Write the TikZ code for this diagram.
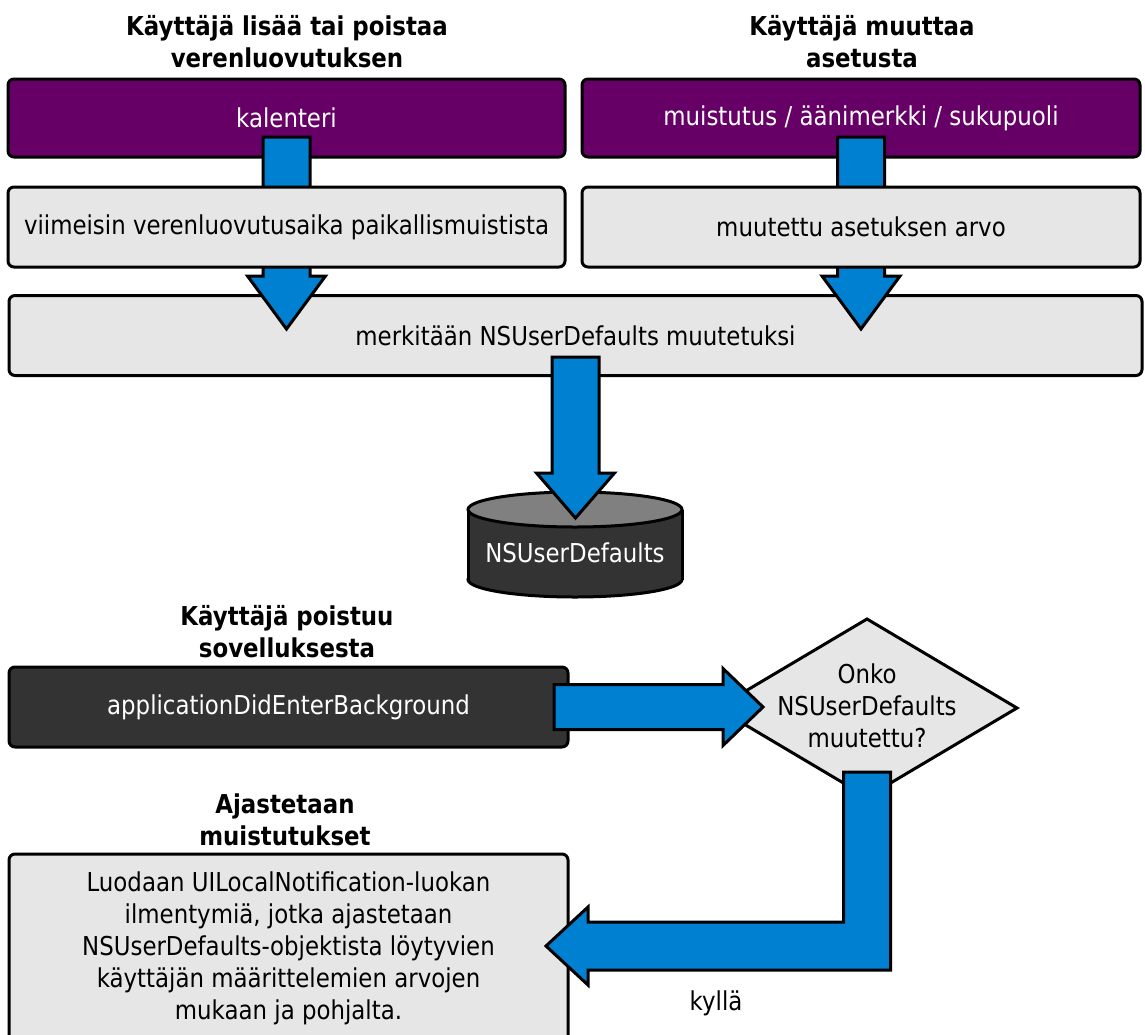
\documentclass[tikz,border=0pt]{standalone}
\usepackage{fontspec}
\setmainfont{DejaVu Sans}[FakeStretch=0.88]
\usetikzlibrary{shapes.geometric,calc}

\definecolor{plum}{HTML}{660066}
\definecolor{boxgray}{HTML}{E6E6E6}
\definecolor{charcoal}{HTML}{333333}
\definecolor{lidgray}{HTML}{808080}
\definecolor{flowblue}{HTML}{0080D0}

\tikzset{
  txt/.style={font=\fontsize{26}{32}\selectfont, align=center},
  heading/.style={font=\bfseries\fontsize{26}{32}\selectfont, align=center},
  roundbox/.style={rectangle, rounded corners=6pt, draw=black, line width=3pt,
    inner sep=0pt, outer sep=0pt, txt},
  purplebox/.style={roundbox, fill=plum, text=white},
  graybox/.style={roundbox, fill=boxgray},
  darkbox/.style={roundbox, fill=charcoal, text=white},
  decision/.style={diamond, draw=black, line width=3pt, fill=boxgray,
    inner sep=0pt, outer sep=0pt},
  blockarrow/.style={fill=flowblue, draw=black, line width=3pt, line join=miter},
  cylline/.style={draw=black, line width=3pt},
}

% block arrow pointing down: shaft top #1, tip #2, head length #3
\newcommand\blockdown[3]{%
  \draw[blockarrow] let \p1=(#1), \p2=(#2) in
    (\x1-23.5pt,\y1) -- (\x1+23.5pt,\y1) -- (\x1+23.5pt,\y2+#3) -- (\x1+39pt,\y2+#3)
    -- (\x1,\y2) -- (\x1-39pt,\y2+#3) -- (\x1-23.5pt,\y2+#3) -- cycle;}
% block arrow pointing right: shaft start #1, tip #2, head length #3
\newcommand\blockright[3]{%
  \draw[blockarrow] let \p1=(#1), \p2=(#2) in
    (\x1,\y1+22.5pt) -- (\x2-#3,\y1+22.5pt) -- (\x2-#3,\y1+38.5pt) -- (\x2,\y1)
    -- (\x2-#3,\y1-38.5pt) -- (\x2-#3,\y1-22.5pt) -- (\x1,\y1-22.5pt) -- cycle;}
% block arrow going down then turning left: shaft top #1, tip #2, head length #3
\newcommand\blockturn[3]{%
  \draw[blockarrow] let \p1=(#1), \p2=(#2) in
    (\x1-23.5pt,\y1) -- (\x1+23.5pt,\y1) -- (\x1+23.5pt,\y2-24pt) -- (\x2+#3,\y2-24pt)
    -- (\x2+#3,\y2-39pt) -- (\x2,\y2) -- (\x2+#3,\y2+39pt) -- (\x2+#3,\y2+24pt)
    -- (\x1-23.5pt,\y2+24pt) -- cycle;}

\begin{document}
\begin{tikzpicture}[x=1pt, y=-1pt]
\useasboundingbox (0,0) rectangle (1145,1034);
\clip (0,0) rectangle (1145,1034);

% event headings
\node[heading] (h1) at (287,42) {Käyttäjä lisää tai poistaa\\verenluovutuksen};
\node[heading] (h2) at (862,42) {Käyttäjä muuttaa\\asetusta};

% event sources and the common step
\node[purplebox, minimum width=557pt, minimum height=78pt] (kal) at (286.5,118) {kalenteri};
\node[purplebox, minimum width=558pt, minimum height=78pt] (mus) at (861,118) {muistutus / äänimerkki / sukupuoli};
\node[graybox, minimum width=1133pt, minimum height=80pt] (mer) at (575.5,335.5) {merkitään NSUserDefaults muutetuksi};

\blockdown{$(kal.center)+(0,19)$}{$(mer.north)+(0,33.5)$}{53pt}
\blockdown{$(mus.center)+(0,19)$}{$(mer.north)+(0,33.5)$}{53pt}

\node[graybox, minimum width=557pt, minimum height=80pt] (vii) at (286.5,227) {viimeisin verenluovutusaika paikallismuistista};
\node[graybox, minimum width=558pt, minimum height=80pt] (mut) at (861,227) {muutettu asetuksen arvo};

% storage cylinder
\coordinate (cyltop) at (575,509.5);
\coordinate (cylbot) at (575,579.5);
\fill[charcoal, cylline] (cylbot) ellipse [x radius=107, y radius=17.5];
\fill[charcoal] (468,509.5) rectangle (682,579.5);
\draw[cylline] (468,509.5) -- (468,579.5) (682,509.5) -- (682,579.5);
\fill[lidgray, cylline] (cyltop) ellipse [x radius=107, y radius=17.5];
\node[txt, text=white] (nsud) at (575,553) {NSUserDefaults};

\blockdown{$(mer.center)+(0,21.5)$}{$(cyltop)+(0,8.5)$}{45pt}

% leaving the application
\node[heading] (h3) at (287,632) {Käyttäjä poistuu\\sovelluksesta};
\node[darkbox, minimum width=559pt, minimum height=80pt] (app) at (288.5,707) {applicationDidEnterBackground};
\node[decision, minimum width=300pt, minimum height=178pt] (dia) at (867,708) {};
\node[txt] (diatext) at (867,706) {Onko\\NSUserDefaults\\muutettu?};

\blockright{$(app.east)+(-14,0)$}{$(dia.west)+(46,0)$}{40pt}

% scheduling the notifications
\node[heading] (h4) at (285,820) {Ajastetaan\\muistutukset};
\node[graybox, minimum width=559pt, minimum height=188pt] (luo) at (288.5,948)
  {Luodaan UILocalNotification-luokan\\ilmentymiä, jotka ajastetaan\\NSUserDefaults-objektista löytyvien\\käyttäjän määrittelemien arvojen\\mukaan ja pohjalta.};

\blockturn{$(dia.south)+(0,-25)$}{$(luo.east)+(-22,-2)$}{42pt}
\node[txt] (yes) at (716,1003) {kyllä};
\end{tikzpicture}
\end{document}
